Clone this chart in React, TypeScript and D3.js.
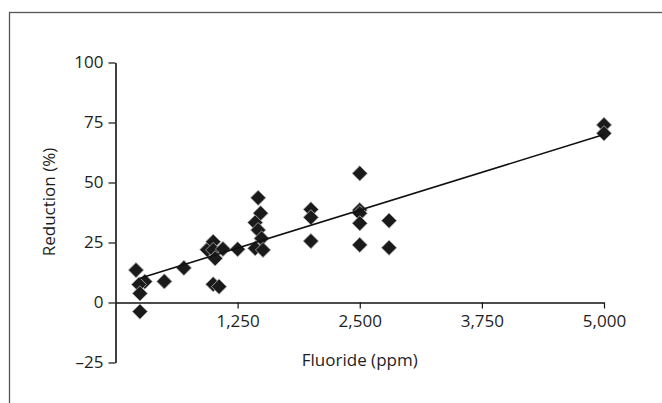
import React, { useRef, useEffect } from "react";
import * as d3 from "d3";

const fluoride = [210, 300, 240, 250, 250, 500, 700, 940, 1000, 1000, 1020, 1100, 1000, 1060, 1250,
    1460, 1485, 1430, 1460, 1495, 1430, 1510, 2000, 2000, 2000, 2500, 2500, 2500, 2500, 2500, 2800, 2800, 5000, 5000];
const reduction = [13.5, 8.7, 7.5, 3.8, -3.8, 8.8, 14.4, 22, 25.3, 21.9, 18.4, 22.3, 7.6, 6.6, 22.2,
    43.6, 37.2, 33.3, 30.2, 26.7, 22.6, 21.9, 38.8, 35.5, 25.6, 53.8, 38.5, 37.2, 33, 24, 34.1, 22.8, 74, 70.5];

const xTicks = [1250, 2500, 3750, 5000];
const yTicks = [-25, 0, 25, 50, 75, 100];

// fitted line
const fitStart = [250, 10.1];
const fitEnd = [5000, 70];

export default function App() {
    const ref = useRef(null);
    const width = 662;
    const height = 403;

    useEffect(() => {
        const svg = d3.select(ref.current);
        svg.selectAll("*").remove();

        const font = "'Open Sans', 'Segoe UI', sans-serif";
        const fontSize = "17px";
        const x = d3.scaleLinear().domain([0, 5000]).range([115.5, 604]);
        const y = d3.scaleLinear().domain([-25, 100]).range([362.5, 62.5]);

        // frame
        svg.append("rect")
            .attr("x", 9.5).attr("y", 12.5)
            .attr("width", 700).attr("height", 450)
            .attr("fill", "white")
            .attr("stroke", "#555")
            .attr("stroke-width", 1.3);

        // x axis along 0
        const xAxis = d3.axisBottom(x)
            .tickValues(xTicks)
            .tickSize(6)
            .tickSizeOuter(0)
            .tickFormat(d3.format(","));
        const gx = svg.append("g")
            .attr("transform", `translate(0, ${y(0)})`)
            .call(xAxis);
        gx.select(".domain").attr("stroke", "#111").attr("stroke-width", 1.6);
        gx.selectAll(".tick line").attr("stroke", "#111").attr("stroke-width", 1.2);
        gx.selectAll(".tick text")
            .attr("y", 12)
            .attr("fill", "#1e1e1e")
            .style("font-family", font)
            .style("font-size", fontSize);

        const yAxis = d3.axisLeft(y)
            .tickValues(yTicks)
            .tickSize(7)
            .tickSizeOuter(0)
            .tickFormat(d => (d < 0 ? "\u2013" + Math.abs(d) : String(d)));
        const gy = svg.append("g")
            .attr("transform", `translate(${x(0)}, 0)`)
            .call(yAxis);
        gy.select(".domain").attr("stroke", "#111").attr("stroke-width", 1.6);
        gy.selectAll(".tick line").attr("stroke", "#111").attr("stroke-width", 1.2);
        gy.selectAll(".tick text")
            .attr("x", -12)
            .attr("fill", "#1e1e1e")
            .style("font-family", font)
            .style("font-size", fontSize);

        // titles
        svg.append("text")
            .attr("x", (x(0) + x(5000)) / 2)
            .attr("y", 366)
            .attr("text-anchor", "middle")
            .attr("fill", "#1e1e1e")
            .style("font-family", font)
            .style("font-size", fontSize)
            .text("Fluoride (ppm)");

        svg.append("text")
            .attr("transform", `translate(55, 202) rotate(-90)`)
            .attr("text-anchor", "middle")
            .attr("fill", "#1e1e1e")
            .style("font-family", font)
            .style("font-size", fontSize)
            .text("Reduction (%)");

        // points
        const symbol = d3.symbol().type(d3.symbolSquare).size(115);
        svg.append("g")
            .selectAll("path")
            .data(fluoride.map((f, i) => [f, reduction[i]]))
            .enter()
            .append("path")
            .attr("d", symbol)
            .attr("transform", d => `translate(${x(d[0])}, ${y(d[1])}) rotate(45)`)
            .attr("fill", "#1a1a1a")
            .attr("stroke", "#aaa")
            .attr("stroke-width", 0.8);

        // regression line on top
        svg.append("line")
            .attr("x1", x(fitStart[0])).attr("y1", y(fitStart[1]))
            .attr("x2", x(fitEnd[0])).attr("y2", y(fitEnd[1]))
            .attr("stroke", "#111")
            .attr("stroke-width", 1.6);
    }, []);

    return (
        <svg ref={ref} width={width} height={height}
             style={{ position: "absolute", left: 0, top: 0, background: "white" }} />
    );
}
